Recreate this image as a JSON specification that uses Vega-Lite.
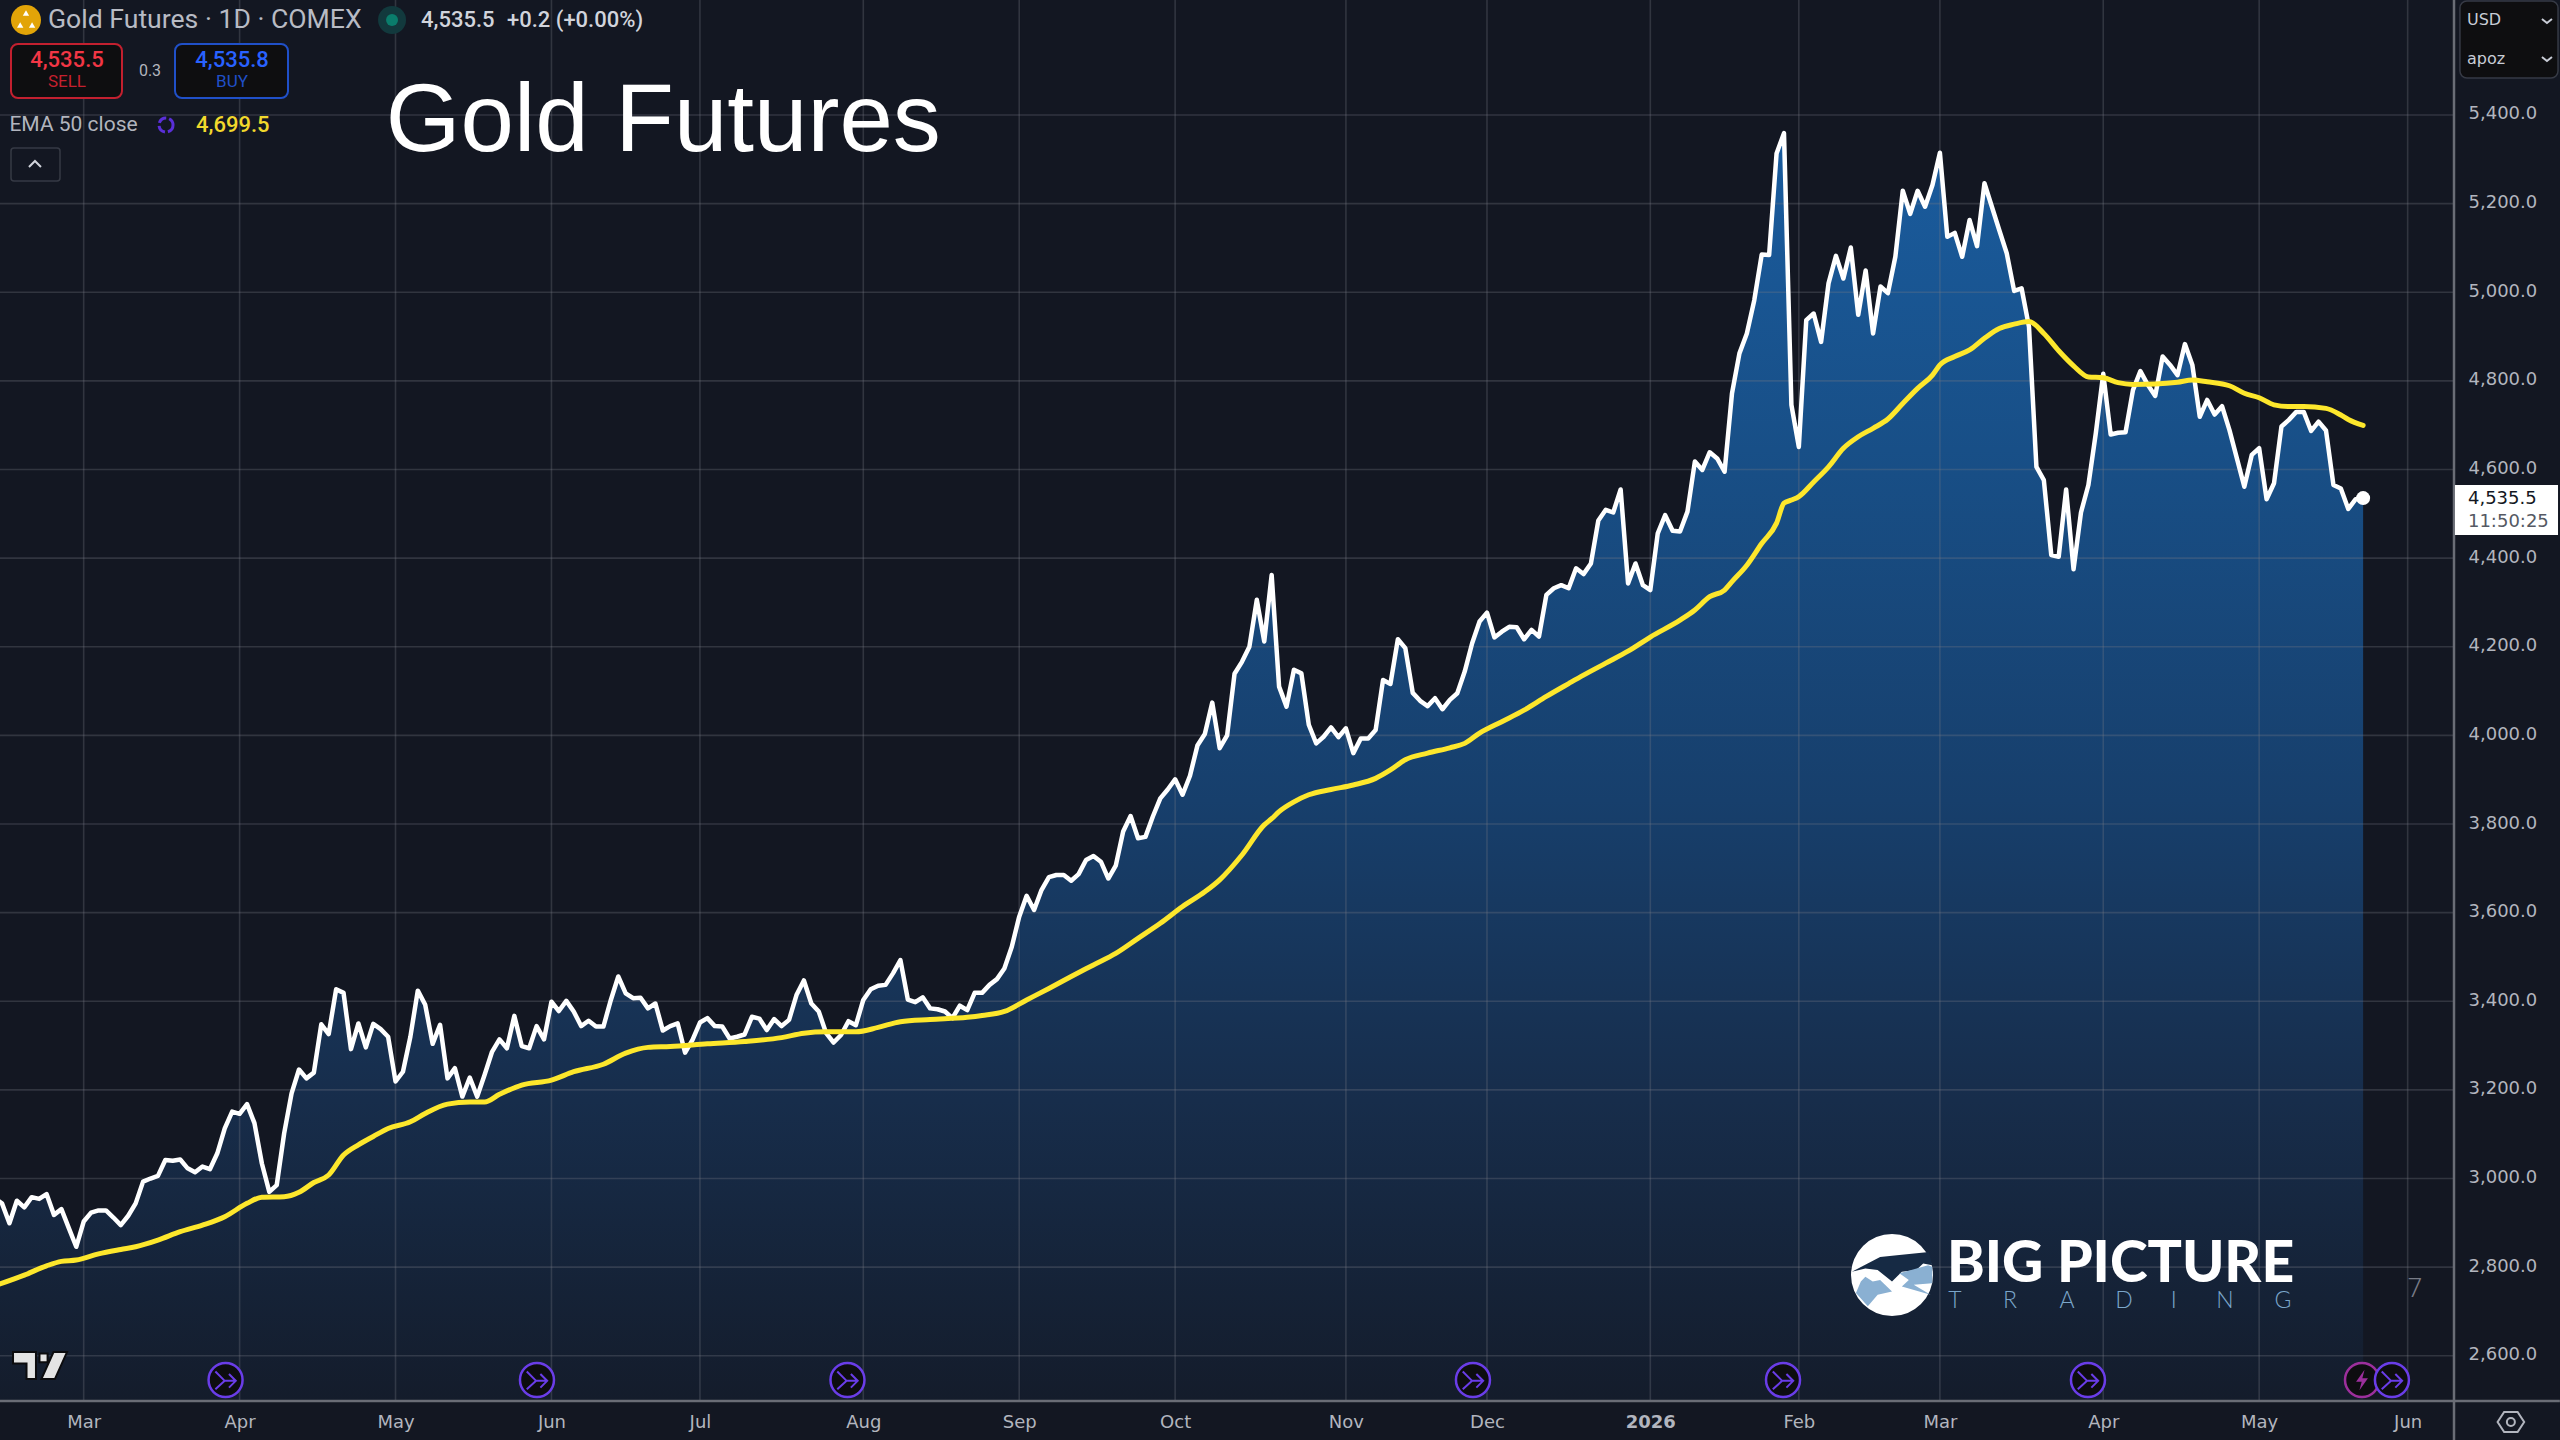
{"$schema":"https://vega.github.io/schema/vega-lite/v6.json","width":2454,"height":1401,"autosize":{"type":"none"},"padding":{"left":0,"top":0,"right":106,"bottom":39},"background":"#131722","config":{"view":{"stroke":null}},
"datasets":{"close":[{"bar":-1,"price":2955},{"bar":0,"price":2944},{"bar":1,"price":2899},{"bar":2,"price":2950},{"bar":3,"price":2935},{"bar":4,"price":2958},{"bar":5,"price":2954},{"bar":6,"price":2965},{"bar":7,"price":2918},{"bar":8,"price":2931},{"bar":9,"price":2888},{"bar":10,"price":2846},{"bar":11,"price":2903},{"bar":12,"price":2923},{"bar":13,"price":2928},{"bar":14,"price":2928},{"bar":15,"price":2912},{"bar":16,"price":2895},{"bar":17,"price":2916},{"bar":18,"price":2944},{"bar":19,"price":2993},{"bar":20,"price":3000},{"bar":21,"price":3006},{"bar":22,"price":3042},{"bar":23,"price":3040},{"bar":24,"price":3043},{"bar":25,"price":3023},{"bar":26,"price":3014},{"bar":27,"price":3027},{"bar":28,"price":3021},{"bar":29,"price":3057},{"bar":30,"price":3113},{"bar":31,"price":3151},{"bar":32,"price":3146},{"bar":33,"price":3168},{"bar":34,"price":3125},{"bar":35,"price":3034},{"bar":36,"price":2970},{"bar":37,"price":2985},{"bar":38,"price":3102},{"bar":39,"price":3192},{"bar":40,"price":3246},{"bar":41,"price":3226},{"bar":42,"price":3239},{"bar":43,"price":3348},{"bar":44,"price":3326},{"bar":45,"price":3427},{"bar":46,"price":3419},{"bar":47,"price":3292},{"bar":48,"price":3350},{"bar":49,"price":3296},{"bar":50,"price":3349},{"bar":51,"price":3337},{"bar":52,"price":3320},{"bar":53,"price":3219},{"bar":54,"price":3241},{"bar":55,"price":3320},{"bar":56,"price":3424},{"bar":57,"price":3392},{"bar":58,"price":3304},{"bar":59,"price":3347},{"bar":60,"price":3226},{"bar":61,"price":3249},{"bar":62,"price":3185},{"bar":63,"price":3228},{"bar":64,"price":3185},{"bar":65,"price":3234},{"bar":66,"price":3286},{"bar":67,"price":3314},{"bar":68,"price":3294},{"bar":69,"price":3367},{"bar":70,"price":3299},{"bar":71,"price":3294},{"bar":72,"price":3344},{"bar":73,"price":3314},{"bar":74,"price":3399},{"bar":75,"price":3378},{"bar":76,"price":3401},{"bar":77,"price":3377},{"bar":78,"price":3344},{"bar":79,"price":3356},{"bar":80,"price":3343},{"bar":81,"price":3343},{"bar":82,"price":3403},{"bar":83,"price":3456},{"bar":84,"price":3418},{"bar":85,"price":3407},{"bar":86,"price":3408},{"bar":87,"price":3384},{"bar":88,"price":3395},{"bar":89,"price":3334},{"bar":90,"price":3344},{"bar":91,"price":3350},{"bar":92,"price":3284},{"bar":93,"price":3313},{"bar":94,"price":3352},{"bar":95,"price":3362},{"bar":96,"price":3344},{"bar":97,"price":3343},{"bar":98,"price":3316},{"bar":99,"price":3320},{"bar":100,"price":3325},{"bar":101,"price":3365},{"bar":102,"price":3361},{"bar":103,"price":3335},{"bar":104,"price":3360},{"bar":105,"price":3344},{"bar":106,"price":3358},{"bar":107,"price":3414},{"bar":108,"price":3447},{"bar":109,"price":3395},{"bar":110,"price":3377},{"bar":111,"price":3328},{"bar":112,"price":3307},{"bar":113,"price":3324},{"bar":114,"price":3355},{"bar":115,"price":3346},{"bar":116,"price":3403},{"bar":117,"price":3427},{"bar":118,"price":3435},{"bar":119,"price":3437},{"bar":120,"price":3463},{"bar":121,"price":3493},{"bar":122,"price":3404},{"bar":123,"price":3398},{"bar":124,"price":3409},{"bar":125,"price":3384},{"bar":126,"price":3382},{"bar":127,"price":3377},{"bar":128,"price":3362},{"bar":129,"price":3390},{"bar":130,"price":3380},{"bar":131,"price":3419},{"bar":132,"price":3419},{"bar":133,"price":3437},{"bar":134,"price":3450},{"bar":135,"price":3474},{"bar":136,"price":3523},{"bar":137,"price":3591},{"bar":138,"price":3638},{"bar":139,"price":3606},{"bar":140,"price":3651},{"bar":141,"price":3680},{"bar":142,"price":3685},{"bar":143,"price":3685},{"bar":144,"price":3672},{"bar":145,"price":3687},{"bar":146,"price":3719},{"bar":147,"price":3728},{"bar":148,"price":3715},{"bar":149,"price":3677},{"bar":150,"price":3706},{"bar":151,"price":3783},{"bar":152,"price":3818},{"bar":153,"price":3768},{"bar":154,"price":3771},{"bar":155,"price":3817},{"bar":156,"price":3858},{"bar":157,"price":3878},{"bar":158,"price":3901},{"bar":159,"price":3866},{"bar":160,"price":3909},{"bar":161,"price":3977},{"bar":162,"price":4003},{"bar":163,"price":4074},{"bar":164,"price":3971},{"bar":165,"price":4000},{"bar":166,"price":4139},{"bar":167,"price":4166},{"bar":168,"price":4200},{"bar":169,"price":4306},{"bar":170,"price":4212},{"bar":171,"price":4362},{"bar":172,"price":4110},{"bar":173,"price":4065},{"bar":174,"price":4148},{"bar":175,"price":4140},{"bar":176,"price":4024},{"bar":177,"price":3982},{"bar":178,"price":3997},{"bar":179,"price":4018},{"bar":180,"price":3996},{"bar":181,"price":4016},{"bar":182,"price":3960},{"bar":183,"price":3993},{"bar":184,"price":3993},{"bar":185,"price":4012},{"bar":186,"price":4125},{"bar":187,"price":4116},{"bar":188,"price":4217},{"bar":189,"price":4197},{"bar":190,"price":4096},{"bar":191,"price":4078},{"bar":192,"price":4066},{"bar":193,"price":4084},{"bar":194,"price":4059},{"bar":195,"price":4080},{"bar":196,"price":4095},{"bar":197,"price":4144},{"bar":198,"price":4208},{"bar":199,"price":4257},{"bar":200,"price":4277},{"bar":201,"price":4221},{"bar":202,"price":4234},{"bar":203,"price":4245},{"bar":204,"price":4244},{"bar":205,"price":4217},{"bar":206,"price":4238},{"bar":207,"price":4223},{"bar":208,"price":4317},{"bar":209,"price":4332},{"bar":210,"price":4339},{"bar":211,"price":4332},{"bar":212,"price":4377},{"bar":213,"price":4364},{"bar":214,"price":4388},{"bar":215,"price":4485},{"bar":216,"price":4509},{"bar":217,"price":4503},{"bar":218,"price":4555},{"bar":219,"price":4343},{"bar":220,"price":4388},{"bar":221,"price":4339},{"bar":222,"price":4328},{"bar":223,"price":4456},{"bar":224,"price":4497},{"bar":225,"price":4462},{"bar":226,"price":4460},{"bar":227,"price":4505},{"bar":228,"price":4618},{"bar":229,"price":4599},{"bar":230,"price":4639},{"bar":231,"price":4625},{"bar":232,"price":4595},{"bar":233,"price":4772},{"bar":234,"price":4862},{"bar":235,"price":4907},{"bar":236,"price":4982},{"bar":237,"price":5085},{"bar":238,"price":5084},{"bar":239,"price":5313},{"bar":240,"price":5359},{"bar":241,"price":4746},{"bar":242,"price":4651},{"bar":243,"price":4937},{"bar":244,"price":4952},{"bar":245,"price":4888},{"bar":246,"price":5020},{"bar":247,"price":5082},{"bar":248,"price":5031},{"bar":249,"price":5101},{"bar":250,"price":4949},{"bar":251,"price":5049},{"bar":252,"price":4907},{"bar":253,"price":5013},{"bar":254,"price":4998},{"bar":255,"price":5080},{"bar":256,"price":5229},{"bar":257,"price":5177},{"bar":258,"price":5229},{"bar":259,"price":5193},{"bar":260,"price":5242},{"bar":261,"price":5315},{"bar":262,"price":5125},{"bar":263,"price":5134},{"bar":264,"price":5080},{"bar":265,"price":5163},{"bar":266,"price":5104},{"bar":267,"price":5246},{"bar":268,"price":5193},{"bar":269,"price":5140},{"bar":270,"price":5088},{"bar":271,"price":5003},{"bar":272,"price":5009},{"bar":273,"price":4922},{"bar":274,"price":4606},{"bar":275,"price":4576},{"bar":276,"price":4407},{"bar":277,"price":4403},{"bar":278,"price":4555},{"bar":279,"price":4375},{"bar":280,"price":4503},{"bar":281,"price":4565},{"bar":282,"price":4682},{"bar":283,"price":4816},{"bar":284,"price":4679},{"bar":285,"price":4683},{"bar":286,"price":4684},{"bar":287,"price":4779},{"bar":288,"price":4822},{"bar":289,"price":4791},{"bar":290,"price":4766},{"bar":291,"price":4855},{"bar":292,"price":4836},{"bar":293,"price":4813},{"bar":294,"price":4883},{"bar":295,"price":4836},{"bar":296,"price":4719},{"bar":297,"price":4757},{"bar":298,"price":4724},{"bar":299,"price":4743},{"bar":300,"price":4689},{"bar":301,"price":4625},{"bar":302,"price":4561},{"bar":303,"price":4633},{"bar":304,"price":4648},{"bar":305,"price":4533},{"bar":306,"price":4569},{"bar":307,"price":4697},{"bar":308,"price":4712},{"bar":309,"price":4730},{"bar":310,"price":4730},{"bar":311,"price":4687},{"bar":312,"price":4708},{"bar":313,"price":4688},{"bar":314,"price":4565},{"bar":315,"price":4557},{"bar":316,"price":4511},{"bar":317,"price":4533},{"bar":318,"price":4535.5}],
"ema":[{"bar":-1,"price":2758},{"bar":3,"price":2782},{"bar":6,"price":2803},{"bar":8,"price":2813},{"bar":10,"price":2816},{"bar":13,"price":2830},{"bar":16,"price":2840},{"bar":18,"price":2846},{"bar":21,"price":2861},{"bar":24,"price":2880},{"bar":27,"price":2895},{"bar":30,"price":2914},{"bar":33,"price":2944},{"bar":35,"price":2958},{"bar":38,"price":2959},{"bar":40,"price":2969},{"bar":42,"price":2991},{"bar":44,"price":3008},{"bar":46,"price":3053},{"bar":48,"price":3076},{"bar":50,"price":3095},{"bar":52,"price":3113},{"bar":55,"price":3128},{"bar":57,"price":3147},{"bar":60,"price":3168},{"bar":63,"price":3173},{"bar":65,"price":3173},{"bar":67,"price":3190},{"bar":70,"price":3211},{"bar":74,"price":3222},{"bar":77,"price":3241},{"bar":81,"price":3258},{"bar":84,"price":3283},{"bar":87,"price":3296},{"bar":90,"price":3298},{"bar":95,"price":3304},{"bar":100,"price":3309},{"bar":105,"price":3318},{"bar":108,"price":3328},{"bar":111,"price":3331},{"bar":115,"price":3331},{"bar":118,"price":3341},{"bar":121,"price":3354},{"bar":125,"price":3359},{"bar":130,"price":3364},{"bar":132,"price":3368},{"bar":135,"price":3377},{"bar":138,"price":3403},{"bar":141,"price":3429},{"bar":144,"price":3456},{"bar":147,"price":3482},{"bar":150,"price":3508},{"bar":153,"price":3542},{"bar":156,"price":3576},{"bar":159,"price":3614},{"bar":162,"price":3647},{"bar":164,"price":3674},{"bar":167,"price":3730},{"bar":170,"price":3798},{"bar":171,"price":3812},{"bar":172,"price":3828},{"bar":174,"price":3850},{"bar":176,"price":3866},{"bar":179,"price":3878},{"bar":182,"price":3888},{"bar":185,"price":3903},{"bar":187,"price":3922},{"bar":189,"price":3945},{"bar":192,"price":3960},{"bar":195,"price":3972},{"bar":197,"price":3982},{"bar":199,"price":4005},{"bar":202,"price":4031},{"bar":205,"price":4057},{"bar":208,"price":4088},{"bar":211,"price":4117},{"bar":213,"price":4136},{"bar":216,"price":4163},{"bar":219,"price":4190},{"bar":222,"price":4222},{"bar":226,"price":4260},{"bar":228,"price":4283},{"bar":230,"price":4313},{"bar":232,"price":4328},{"bar":233,"price":4347},{"bar":235,"price":4384},{"bar":237,"price":4433},{"bar":239,"price":4479},{"bar":240,"price":4524},{"bar":241,"price":4531},{"bar":242,"price":4539},{"bar":244,"price":4572},{"bar":246,"price":4606},{"bar":248,"price":4648},{"bar":250,"price":4674},{"bar":252,"price":4693},{"bar":254,"price":4714},{"bar":256,"price":4749},{"bar":258,"price":4783},{"bar":260,"price":4813},{"bar":261,"price":4836},{"bar":263,"price":4855},{"bar":265,"price":4870},{"bar":267,"price":4896},{"bar":269,"price":4918},{"bar":271,"price":4928},{"bar":273,"price":4934},{"bar":275,"price":4907},{"bar":277,"price":4868},{"bar":279,"price":4834},{"bar":281,"price":4809},{"bar":283,"price":4807},{"bar":285,"price":4796},{"bar":287,"price":4792},{"bar":290,"price":4793},{"bar":293,"price":4797},{"bar":295,"price":4802},{"bar":297,"price":4798},{"bar":300,"price":4789},{"bar":302,"price":4772},{"bar":304,"price":4762},{"bar":306,"price":4746},{"bar":308,"price":4742},{"bar":310,"price":4742},{"bar":313,"price":4738},{"bar":315,"price":4723},{"bar":316,"price":4713},{"bar":318,"price":4699.5}]},
"data":{"name":"close"},
"encoding":{"x":{"field":"bar","type":"quantitative","title":null,"scale":{"domain":[-0.27,330.24],"nice":false,"zero":false},"axis":{"values":[11,32,53,74,94,116,137,158,181,200,222,242,261,283,304,324],"labelExpr":"['Mar','Apr','May','Jun','Jul','Aug','Sep','Oct','Nov','Dec','2026','Feb','Mar','Apr','May','Jun'][indexof([11,32,53,74,94,116,137,158,181,200,222,242,261,283,304,324],datum.value)]","grid":false,"domain":false,"ticks":false,"labelFont":"DejaVu Sans","labelFontSize":18,"labelColor":"#b2b5be","labelPadding":12,"labelOverlap":false,"labelFlush":false,"labelFontWeight":{"expr":"datum.value==222?'bold':'normal'"}}},"y":{"field":"price","type":"quantitative","title":null,"scale":{"domain":[2498,5659.5],"nice":false,"zero":false},"axis":{"orient":"right","values":[2600,2800,3000,3200,3400,3600,3800,4000,4200,4400,4600,4800,5000,5200,5400],"format":",.1f","grid":false,"domain":false,"ticks":false,"labelFont":"DejaVu Sans","labelFontSize":18,"labelColor":"#b2b5be","labelPadding":14,"labelOffset":-1,"labelOverlap":false}}},
"layer":[
{"mark":{"type":"area","clip":true,"line":false,"fill":{"gradient":"linear","x1":0,"y1":0,"x2":0,"y2":1,"stops":[{"offset":0,"color":"#1a5c9e"},{"offset":0.25,"color":"#184f87"},{"offset":0.526,"color":"#173f6c"},{"offset":0.763,"color":"#172d4b"},{"offset":1,"color":"#141c2b"}]}},"encoding":{"y2":{"datum":2498}}},
{"data":{"values":[{"bar":-0.27,"bar2":330.24,"price":2600},{"bar":-0.27,"bar2":330.24,"price":2800},{"bar":-0.27,"bar2":330.24,"price":3000},{"bar":-0.27,"bar2":330.24,"price":3200},{"bar":-0.27,"bar2":330.24,"price":3400},{"bar":-0.27,"bar2":330.24,"price":3600},{"bar":-0.27,"bar2":330.24,"price":3800},{"bar":-0.27,"bar2":330.24,"price":4000},{"bar":-0.27,"bar2":330.24,"price":4200},{"bar":-0.27,"bar2":330.24,"price":4400},{"bar":-0.27,"bar2":330.24,"price":4600},{"bar":-0.27,"bar2":330.24,"price":4800},{"bar":-0.27,"bar2":330.24,"price":5000},{"bar":-0.27,"bar2":330.24,"price":5200},{"bar":-0.27,"bar2":330.24,"price":5400}]},"mark":{"type":"rule","stroke":"#787b86","strokeOpacity":0.3,"strokeWidth":1.6},"encoding":{"x2":{"field":"bar2"}}},
{"data":{"values":[{"bar":11,"price":5659.5,"price2":2498},{"bar":32,"price":5659.5,"price2":2498},{"bar":53,"price":5659.5,"price2":2498},{"bar":74,"price":5659.5,"price2":2498},{"bar":94,"price":5659.5,"price2":2498},{"bar":116,"price":5659.5,"price2":2498},{"bar":137,"price":5659.5,"price2":2498},{"bar":158,"price":5659.5,"price2":2498},{"bar":181,"price":5659.5,"price2":2498},{"bar":200,"price":5659.5,"price2":2498},{"bar":222,"price":5659.5,"price2":2498},{"bar":242,"price":5659.5,"price2":2498},{"bar":261,"price":5659.5,"price2":2498},{"bar":283,"price":5659.5,"price2":2498},{"bar":304,"price":5659.5,"price2":2498},{"bar":324,"price":5659.5,"price2":2498}]},"mark":{"type":"rule","stroke":"#787b86","strokeOpacity":0.3,"strokeWidth":1.6},"encoding":{"y2":{"field":"price2"}}},
{"mark":{"type":"line","clip":true,"stroke":"#ffffff","strokeWidth":4.5,"strokeJoin":"round","strokeCap":"round"}},
{"data":{"name":"ema"},"mark":{"type":"line","clip":true,"stroke":"#fde72c","strokeWidth":5,"interpolate":"monotone","strokeCap":"round"}},
{"data":{"values":[{"bar":318,"price":4535.5}]},"mark":{"type":"point","shape":"circle","filled":true,"fill":"#ffffff","size":196,"opacity":1}},
{"data":{"values":[{"bar":330.24,"bar2":330.24,"price":5659.5,"price2":2410},{"bar":-0.27,"bar2":344.5,"price":2498,"price2":2498}]},"mark":{"type":"rule","stroke":"#6a6d76","strokeWidth":2.5},"encoding":{"x2":{"field":"bar2"},"y2":{"field":"price2"}}},
{"data":{"values":[{"bar":5.12,"price":2578}]},"mark":{"type":"point","shape":"M-1,-0.5 L-0.15,-0.5 L-0.15,0.5 L-0.5,0.5 L-0.5,-0.08 L-1,-0.08 Z M-0.02,-0.45 L0.28,-0.45 L0.28,-0.12 L-0.02,-0.12 Z M0.5,-0.5 L1,-0.5 L0.55,0.5 L0.05,0.5 Z","filled":true,"fill":"#e4e4e4","stroke":"#0c0c0e","strokeWidth":2,"size":2916,"opacity":1}},
{"data":{"values":[{"bar":254.55,"price":2782.3}]},"mark":{"type":"point","shape":"circle","filled":true,"fill":"#ffffff","size":6724,"opacity":1}},
{"data":{"values":[{"bar":254.55,"price":2782.3}]},"mark":{"type":"point","shape":"M-0.98,-0.08 L-0.29,-0.44 L0.12,-0.48 L0.9,-0.56 L0.98,-0.24 L0.76,-0.28 L0.59,-0.12 L0.24,-0.08 L0,0.16 L-0.35,-0.12 L-0.65,-0.16 Z","filled":true,"fill":"#162a44","size":6724,"opacity":1}},
{"data":{"values":[{"bar":254.55,"price":2782.3}]},"mark":{"type":"point","shape":"M-0.88,0.44 L-0.76,0.16 L-0.65,0.04 L-0.47,0.16 L-0.29,0.12 L0,0.4 L-0.35,0.48 L-0.59,0.76 Z M0.18,-0.04 L0.88,-0.24 L0.98,-0.2 L0.98,0.2 L0.53,0.24 L0.94,0.48 L0.24,0.28 L0.41,0.12 Z","filled":true,"fill":"#8ab0d2","size":6724,"opacity":1}},
{"data":{"values":[{"bar":261.95,"price":2804,"t":"BIG PICTURE"}]},"mark":{"type":"text","align":"left","baseline":"middle","font":"Lato","fontWeight":900,"fontSize":57,"fill":"#ffffff"},"encoding":{"text":{"field":"t"}}},
{"data":{"values":[{"bar":263.03,"price":2723,"t":"T"},{"bar":270.44,"price":2723,"t":"R"},{"bar":278.11,"price":2723,"t":"A"},{"bar":285.79,"price":2723,"t":"D"},{"bar":292.5,"price":2723,"t":"I"},{"bar":299.4,"price":2723,"t":"N"},{"bar":307.2,"price":2723,"t":"G"}]},"mark":{"type":"text","align":"center","baseline":"middle","font":"Lato","fontWeight":300,"fontSize":23,"fill":"#7ba6ca"},"encoding":{"text":{"field":"t"}}},
{"data":{"values":[{"bar":324.98,"price":2750.7,"t":"7"}]},"mark":{"type":"text","align":"center","baseline":"middle","font":"Roboto","fontWeight":300,"fontSize":26,"fill":"#787b86"},"encoding":{"text":{"field":"t"}}},
{"data":{"values":[{"bar":30.11,"price":2545.4},{"bar":72.05,"price":2545.4},{"bar":113.87,"price":2545.4},{"bar":198.11,"price":2545.4},{"bar":239.87,"price":2545.4},{"bar":280.94,"price":2545.4}]},"mark":{"type":"point","shape":"circle","filled":true,"fill":"#0d0d10","stroke":"#6a3de8","strokeWidth":2.5,"size":1156,"opacity":1}},
{"data":{"values":[{"bar":30.11,"price":2545.4},{"bar":72.05,"price":2545.4},{"bar":113.87,"price":2545.4},{"bar":198.11,"price":2545.4},{"bar":239.87,"price":2545.4},{"bar":280.94,"price":2545.4}]},"mark":{"type":"point","shape":"M-0.6,0.55 L-0.05,0.05 M-0.6,-0.5 L-0.05,0.05 L0.6,0.05 M0.2,-0.35 L0.6,0.05 L0.2,0.45","filled":false,"stroke":"#6a3de8","strokeWidth":2,"size":1156,"opacity":1}},
{"data":{"values":[{"bar":317.85,"price":2545.4}]},"mark":{"type":"point","shape":"circle","filled":true,"fill":"#0d0d10","stroke":"#9c2f9c","strokeWidth":2.5,"size":1156,"opacity":1}},
{"data":{"values":[{"bar":317.85,"price":2545.4}]},"mark":{"type":"point","shape":"M0.15,-0.6 L-0.35,0.1 L-0.02,0.1 L-0.15,0.6 L0.35,-0.1 L0.02,-0.1 Z","filled":true,"fill":"#9c2f9c","size":1156,"opacity":1}},
{"data":{"values":[{"bar":321.88,"price":2545.4}]},"mark":{"type":"point","shape":"circle","filled":true,"fill":"#0d0d10","stroke":"#6a3de8","strokeWidth":2.5,"size":1156,"opacity":1}},
{"data":{"values":[{"bar":321.88,"price":2545.4}]},"mark":{"type":"point","shape":"M-0.6,0.55 L-0.05,0.05 M-0.6,-0.5 L-0.05,0.05 L0.6,0.05 M0.2,-0.35 L0.6,0.05 L0.2,0.45","filled":false,"stroke":"#6a3de8","strokeWidth":2,"size":1156,"opacity":1}},
{"data":{"values":[{"bar":337.9,"price":2450.6}]},"mark":{"type":"point","shape":"M-0.95,0 L-0.48,-0.72 L0.48,-0.72 L0.95,0 L0.48,0.72 L-0.48,0.72 Z","filled":false,"stroke":"#b2b5be","strokeWidth":2,"size":784,"opacity":1}},
{"data":{"values":[{"bar":337.9,"price":2450.6}]},"mark":{"type":"point","shape":"circle","filled":false,"stroke":"#b2b5be","strokeWidth":2,"size":64,"opacity":1}},
{"data":{"values":[{"bar":51.7,"price":5384,"t":"Gold Futures"}]},"mark":{"type":"text","align":"left","baseline":"middle","font":"Liberation Sans","fontSize":96,"fill":"#ffffff"},"encoding":{"text":{"field":"t"}}},
{"data":{"values":[{"bar":3.23,"price":5614.4}]},"mark":{"type":"point","shape":"circle","filled":true,"fill":"#e2a408","size":900,"opacity":1}},
{"data":{"values":[{"bar":3.23,"price":5630},{"bar":2.45,"price":5603},{"bar":4.05,"price":5603}]},"mark":{"type":"point","shape":"triangle-up","filled":true,"fill":"#ffffff","size":40,"opacity":1}},
{"data":{"values":[{"bar":52.53,"price":5614.4}]},"mark":{"type":"point","shape":"circle","filled":true,"fill":"#12393d","size":784,"opacity":1}},
{"data":{"values":[{"bar":52.53,"price":5614.4}]},"mark":{"type":"point","shape":"circle","filled":true,"fill":"#0a7d6c","size":144,"opacity":1}},
{"data":{"values":[{"bar":6.19,"price":5614.4,"t":"Gold Futures · 1D · COMEX"}]},"mark":{"type":"text","align":"left","baseline":"middle","font":"Roboto","fontSize":26.6,"fill":"#b8bbc4"},"encoding":{"text":{"field":"t"}}},
{"data":{"values":[{"bar":56.43,"price":5614.4,"t":"4,535.5"},{"bar":68.01,"price":5614.4,"t":"+0.2 (+0.00%)"}]},"mark":{"type":"text","align":"left","baseline":"middle","font":"Roboto","fontWeight":500,"fontSize":22,"fill":"#d1d4dc"},"encoding":{"text":{"field":"t"}}},
{"data":{"values":[{"bar":1.21,"bar2":16.16,"price":5560.2,"price2":5438.4}]},"mark":{"type":"rect","fill":"#0e0e10","stroke":"#c3202f","strokeWidth":2,"cornerRadius":7},"encoding":{"x2":{"field":"bar2"},"y2":{"field":"price2"}}},
{"data":{"values":[{"bar":23.3,"bar2":38.52,"price":5560.2,"price2":5438.4}]},"mark":{"type":"rect","fill":"#0e0e10","stroke":"#2050c8","strokeWidth":2,"cornerRadius":7},"encoding":{"x2":{"field":"bar2"},"y2":{"field":"price2"}}},
{"data":{"values":[{"bar":8.75,"price":5524.1,"t":"4,535.5"}]},"mark":{"type":"text","align":"center","baseline":"middle","font":"Roboto","fontWeight":500,"fontSize":22,"fill":"#f23645"},"encoding":{"text":{"field":"t"}}},
{"data":{"values":[{"bar":8.75,"price":5474.5,"t":"SELL"}]},"mark":{"type":"text","align":"center","baseline":"middle","font":"Roboto","fontSize":17,"fill":"#c5202e"},"encoding":{"text":{"field":"t"}}},
{"data":{"values":[{"bar":30.98,"price":5524.1,"t":"4,535.8"}]},"mark":{"type":"text","align":"center","baseline":"middle","font":"Roboto","fontWeight":500,"fontSize":22,"fill":"#2962ff"},"encoding":{"text":{"field":"t"}}},
{"data":{"values":[{"bar":30.98,"price":5474.5,"t":"BUY"}]},"mark":{"type":"text","align":"center","baseline":"middle","font":"Roboto","fontSize":17,"fill":"#2050c8"},"encoding":{"text":{"field":"t"}}},
{"data":{"values":[{"bar":19.93,"price":5499.3,"t":"0.3"}]},"mark":{"type":"text","align":"center","baseline":"middle","font":"Roboto","fontSize":16,"fill":"#b2b5be"},"encoding":{"text":{"field":"t"}}},
{"data":{"values":[{"bar":1,"price":5377.4,"t":"EMA 50 close"}]},"mark":{"type":"text","align":"left","baseline":"middle","font":"Roboto","fontSize":21,"fill":"#b2b5be"},"encoding":{"text":{"field":"t"}}},
{"data":{"values":[{"bar":22.09,"price":5377.4}]},"mark":{"type":"point","shape":"circle","filled":false,"stroke":"#5a2fd8","strokeWidth":3,"size":196,"opacity":1,"strokeDash":[9,3]}},
{"data":{"values":[{"bar":26.13,"price":5377.4,"t":"4,699.5"}]},"mark":{"type":"text","align":"left","baseline":"middle","font":"Roboto","fontWeight":500,"fontSize":22,"fill":"#f2d92c"},"encoding":{"text":{"field":"t"}}},
{"data":{"values":[{"bar":1.21,"bar2":7.81,"price":5325.5,"price2":5251}]},"mark":{"type":"rect","fill":"#131722","stroke":"#363a45","strokeWidth":1.5,"cornerRadius":3},"encoding":{"x2":{"field":"bar2"},"y2":{"field":"price2"}}},
{"data":{"values":[{"bar":4.44,"price":5289.4}]},"mark":{"type":"point","shape":"M-1,0.5 L0,-0.5 L1,0.5","filled":false,"stroke":"#d1d4dc","strokeWidth":2,"size":144,"opacity":1}},
{"data":{"values":[{"bar":331.04,"bar2":344.25,"price":5657.2,"price2":5483.5}]},"mark":{"type":"rect","fill":"#0e0e10","stroke":"#363a45","strokeWidth":1.5,"cornerRadius":7},"encoding":{"x2":{"field":"bar2"},"y2":{"field":"price2"}}},
{"data":{"values":[{"bar":331.98,"price":5614.4,"t":"USD"},{"bar":331.98,"price":5526.4,"t":"apoz"}]},"mark":{"type":"text","align":"left","baseline":"middle","font":"DejaVu Sans","fontSize":16,"fill":"#c8ccd6"},"encoding":{"text":{"field":"t"}}},
{"data":{"values":[{"bar":342.76,"price":5612.1},{"bar":342.76,"price":5526.4}]},"mark":{"type":"point","shape":"M-1,-0.4 L0,0.4 L1,-0.4","filled":false,"stroke":"#c8ccd6","strokeWidth":2,"size":100,"opacity":1}},
{"data":{"values":[{"bar":330.37,"bar2":344.25,"price":4565,"price2":4452.2}]},"mark":{"type":"rect","fill":"#ffffff"},"encoding":{"x2":{"field":"bar2"},"y2":{"field":"price2"}}},
{"data":{"values":[{"bar":332.12,"price":4534,"t":"4,535.5"}]},"mark":{"type":"text","align":"left","baseline":"middle","font":"DejaVu Sans","fontSize":18,"fill":"#131722"},"encoding":{"text":{"field":"t"}}},
{"data":{"values":[{"bar":332.12,"price":4482,"t":"11:50:25"}]},"mark":{"type":"text","align":"left","baseline":"middle","font":"DejaVu Sans","fontSize":18,"fill":"#555963"},"encoding":{"text":{"field":"t"}}}
]}
